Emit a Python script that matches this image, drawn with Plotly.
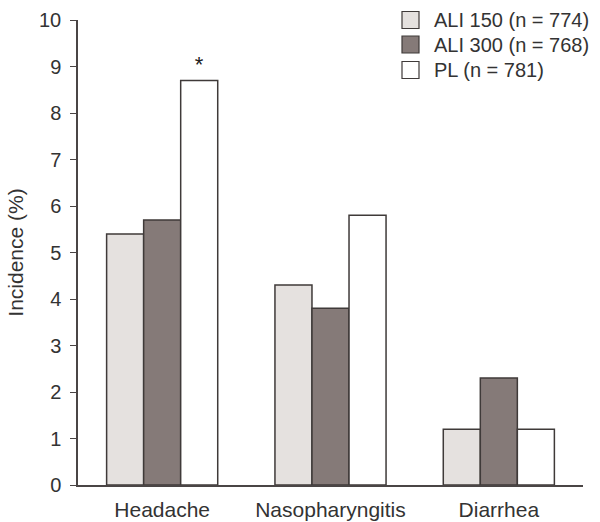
import plotly.graph_objects as go

categories = ["Headache", "Nasopharyngitis", "Diarrhea"]
ali150 = [5.4, 4.3, 1.2]
ali300 = [5.7, 3.8, 2.3]
pl = [8.7, 5.8, 1.2]
pl_marks = ["*", "", ""]
series_names = ["ALI 150 (n = 774)", "ALI 300 (n = 768)", "PL (n = 781)"]
series_colors = ["#e5e1df", "#857a78", "#ffffff"]
y_ticks = list(range(0, 11))

font_family = "Liberation Sans, Arial, sans-serif"
txt_color = "#333333"
edge_color = "#3f3a39"
edge = dict(color=edge_color, width=1.5)

fig = go.Figure()
for name, vals, col in zip(series_names, [ali150, ali300, pl], series_colors):
    kw = {}
    if vals is pl:
        kw = dict(text=pl_marks, textposition="outside", cliponaxis=False,
                  textfont=dict(size=22, color="#222222"))
    fig.add_trace(go.Bar(x=categories, y=vals, name=name,
                         marker=dict(color=col, line=edge), showlegend=False, **kw))

# custom legend (swatches + labels) in the top right corner
W, H = 600, 522
ml, mr, mt, mb = 78, 17, 20, 37
pw, ph = W - ml - mr, H - mt - mb
def px_x(p):
    return (p - ml) / pw
def px_y(p):
    return (H - mb - p) / ph
row_y = [20, 44.5, 70]
for i, (name, col) in enumerate(zip(series_names, series_colors)):
    yc = row_y[i]
    fig.add_shape(type="rect", xref="paper", yref="paper",
                  x0=px_x(402), x1=px_x(419), y0=px_y(yc + 8.5), y1=px_y(yc - 8.5),
                  fillcolor=col, line=dict(color=edge_color, width=1.2))
    fig.add_annotation(xref="paper", yref="paper", x=px_x(432), y=px_y(yc),
                       xanchor="left", yanchor="middle", text=name, showarrow=False,
                       font=dict(size=20, color=txt_color))

fig.update_layout(
    width=W, height=H,
    margin=dict(l=ml, r=mr, t=mt, b=mb, autoexpand=False),
    paper_bgcolor="white", plot_bgcolor="white",
    font=dict(family=font_family, size=20, color=txt_color),
    barmode="group", bargap=0.34, bargroupgap=0,
    showlegend=False,
)
fig.update_xaxes(range=[-0.5, 2.5], showline=True, linecolor="#4a4545", linewidth=1.5,
                 ticks="", showgrid=False, zeroline=False, automargin=False,
                 ticklabelstandoff=5,
                 tickfont=dict(size=21, color=txt_color))
fig.update_yaxes(range=[0, 10], tickvals=y_ticks, showline=True, linecolor="#4a4545",
                 linewidth=1.5, ticks="outside", ticklen=6, tickcolor="#4a4545",
                 showgrid=False, zeroline=False, automargin=False,
                 ticklabelstandoff=5,
                 title=dict(text="Incidence (%)", font=dict(size=21, color=txt_color), standoff=10),
                 tickfont=dict(size=20, color=txt_color))

fig.write_html("out.html", config={"displayModeBar": False},
               post_script="document.body.style.margin='0';document.body.style.padding='0';")
